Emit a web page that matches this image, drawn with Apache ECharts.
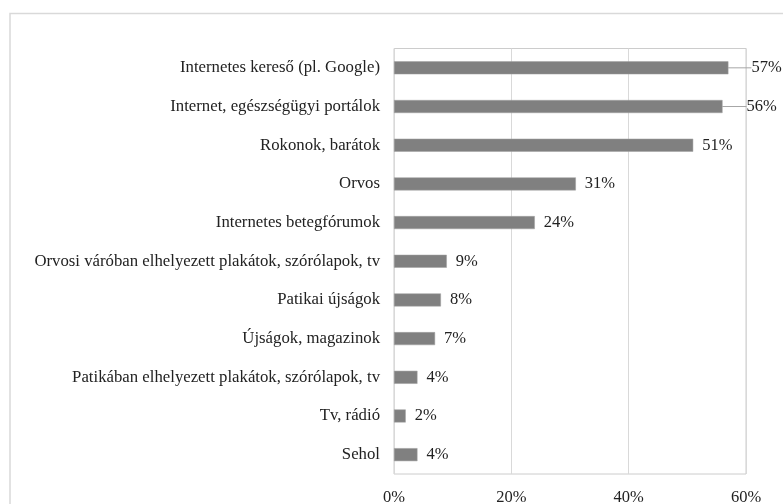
<!DOCTYPE html>
<html>
<head>
<meta charset="utf-8">
<script src="https://cdn.jsdelivr.net/npm/echarts@6/dist/echarts.min.js"></script>
<style>
  html, body { margin: 0; padding: 0; background: #fff; }
  #chart { width: 783px; height: 504px; }
</style>
</head>
<body>
<div id="chart"></div>
<script>
// források (felülről lefelé)
const categories = [
    'Internetes kereső (pl. Google)',
    'Internet, egészségügyi portálok',
    'Rokonok, barátok',
    'Orvos',
    'Internetes betegfórumok',
    'Orvosi váróban elhelyezett plakátok, szórólapok, tv',
    'Patikai újságok',
    'Újságok, magazinok',
    'Patikában elhelyezett plakátok, szórólapok, tv',
    'Tv, rádió',
    'Sehol'
];
const values = [57, 56, 51, 31, 24, 9, 8, 7, 4, 2, 4];
const xTicks = [0, 20, 40, 60];

// a két leghosszabb címkét kicsit jobbra toljuk, vezetővonallal
const shifted = { 0: 14, 1: 15 };

const font = 'Liberation Serif, Times New Roman, serif';

const barData = values.map((v, i) => ({
    value: v,
    labelLine: { show: !!shifted[i] }
}));

const chart = echarts.init(document.getElementById('chart'));
chart.setOption({
    animation: false,
    graphic: [{
        type: 'rect',
        shape: { x: 10, y: 13.5, width: 790, height: 520 },
        style: { fill: 'none', stroke: '#d9d9d9', lineWidth: 1.5 },
        silent: true
    }],
    grid: {
        left: 394, right: 37, top: 48.5, bottom: 30,
        outerBoundsMode: 'none',
        show: true, borderColor: '#cccccc', borderWidth: 1
    },
    xAxis: {
        type: 'value',
        min: xTicks[0],
        max: xTicks[xTicks.length - 1],
        interval: 20,
        axisLine: { show: false },
        axisTick: { show: false },
        splitLine: { lineStyle: { color: '#d9d9d9', width: 1 } },
        axisLabel: {
            formatter: '{value}%', margin: 15,
            fontFamily: font, fontSize: 16.5, color: '#222'
        }
    },
    yAxis: {
        type: 'category',
        inverse: true,
        data: categories,
        axisLine: { show: false },
        axisTick: { show: false },
        axisLabel: { margin: 14, fontFamily: font, fontSize: 16.75, color: '#222' }
    },
    series: [{
        type: 'bar',
        data: barData,
        barWidth: 13,
        itemStyle: { color: '#808080', borderColor: '#a0a0a0', borderWidth: 0.5 },
        label: {
            show: true, position: 'right', distance: 9, offset: [0, 2],
            formatter: p => p.value + '%',
            fontFamily: font, fontSize: 16.5, color: '#222'
        },
        labelLine: { show: false, lineStyle: { color: '#a6a6a6', width: 1 } },
        labelLayout: p => (shifted[p.dataIndex] ? { dx: shifted[p.dataIndex] } : {})
    }]
});
</script>
</body>
</html>
